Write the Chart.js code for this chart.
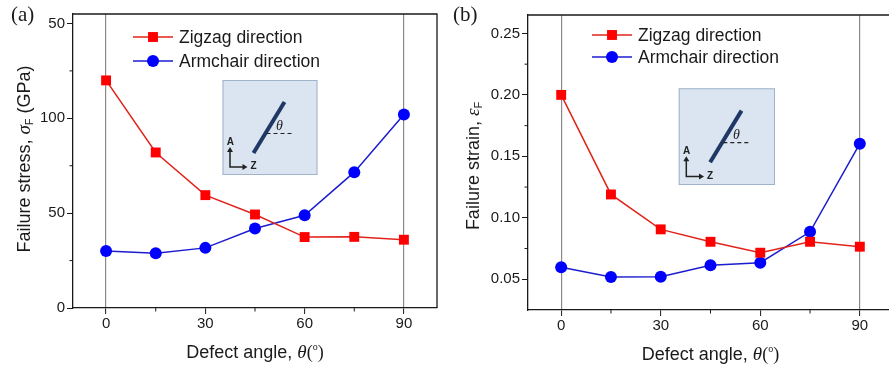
<!DOCTYPE html>
<html>
<head>
<meta charset="utf-8">
<script src="https://cdn.jsdelivr.net/npm/chart.js@4.4.0/dist/chart.umd.min.js"></script>
<style>
html, body { margin:0; padding:0; background:#fff; overflow:hidden; width:889px; height:369px; }
#wrapA { position:absolute; left:0; top:0; width:440px; height:369px; }
#wrapB { position:absolute; left:440px; top:0; width:456px; height:369px; }
</style>
</head>
<body>
<div id="wrapA"><canvas id="chartA" width="440" height="369"></canvas></div>
<div id="wrapB"><canvas id="chartB" width="456" height="369"></canvas></div>
<script>
// data
const angles = [0, 15, 30, 45, 60, 75, 90];
const stressZigzag = [120, 82, 59.5, 49.3, 37.4, 37.5, 36];
const stressArmchair = [30, 28.9, 31.7, 41.9, 48.9, 71.6, 102];
const strainZigzag = [0.200, 0.119, 0.0906, 0.0805, 0.0716, 0.0805, 0.0765];
const strainArmchair = [0.0598, 0.0518, 0.0520, 0.0614, 0.0635, 0.0886, 0.1603];
const seriesNames = ['Zigzag direction', 'Armchair direction'];

// ticks
const angleTicks = [0, 30, 60, 90];
const angleMinor = [15, 45, 75];
const stressTicks = [0, 50, 100, 150];
const stressTickLabels = ['0', '50', '100', '50'];
const stressMinor = [25, 75, 125];
const strainTicks = [0.05, 0.10, 0.15, 0.20, 0.25];
const strainTickLabels = ['0.05', '0.10', '0.15', '0.20', '0.25'];
const strainMinor = [0.075, 0.125, 0.175, 0.225];

const SANS = 'Liberation Sans';
const SERIF = 'Liberation Serif';
const INK = '#1a1a1a';

function pts(vals){
    return angles.map((a, i) => ({x: a, y: vals[i]}));
}

function tickLabel(majors, labels){
    return function(value){
        for(let i = 0; i < majors.length; i++){
            if(Math.abs(majors[i] - value) < 1e-9) return labels[i];
        }
        return '';
    };
}

function setTicks(majors){
    return function(scale){
        scale.ticks = majors.map(v => ({value: v}));
    };
}

// text with mixed fonts (italic greek, subscripts)
function richText(ctx, parts, x, y, rot){
    ctx.save();
    ctx.translate(x, y);
    ctx.rotate(rot);
    ctx.textBaseline = 'alphabetic';
    ctx.textAlign = 'left';
    ctx.fillStyle = INK;
    let w = 0;
    parts.forEach(p => { ctx.font = p.font; p.w = ctx.measureText(p.t).width; w += p.w; });
    let cx = -w / 2;
    parts.forEach(p => { ctx.font = p.font; ctx.fillText(p.t, cx, p.dy || 0); cx += p.w; });
    ctx.restore();
}

function drawInset(ctx, bx, by, bw, bh){
    const k = bw / 95;
    ctx.save();
    ctx.fillStyle = '#dbe5f1';
    ctx.fillRect(bx, by, bw, bh);
    ctx.strokeStyle = '#9fb3ca';
    ctx.lineWidth = 1;
    ctx.strokeRect(bx + 0.5, by + 0.5, bw - 1, bh - 1);
    // defect
    ctx.strokeStyle = '#1f3865';
    ctx.lineWidth = 4;
    ctx.beginPath();
    ctx.moveTo(bx + 31 * k, by + 73 * k);
    ctx.lineTo(bx + 62 * k, by + 22 * k);
    ctx.stroke();
    // dashed reference
    ctx.strokeStyle = '#222';
    ctx.lineWidth = 1.2;
    ctx.setLineDash([4, 3]);
    ctx.beginPath();
    ctx.moveTo(bx + 44 * k, by + 53.5 * k);
    ctx.lineTo(bx + 70 * k, by + 53.5 * k);
    ctx.stroke();
    ctx.setLineDash([]);
    ctx.fillStyle = '#222';
    ctx.font = 'italic 14px ' + SERIF;
    ctx.textAlign = 'center';
    ctx.textBaseline = 'middle';
    ctx.fillText('θ', bx + 57 * k, by + 46 * k);
    // A / Z arrows
    ctx.lineWidth = 1.5;
    ctx.beginPath();
    ctx.moveTo(bx + 7.5 * k, by + 70 * k);
    ctx.lineTo(bx + 7.5 * k, by + 87 * k);
    ctx.lineTo(bx + 22 * k, by + 87 * k);
    ctx.stroke();
    ctx.beginPath();
    ctx.moveTo(bx + 7.5 * k, by + 67 * k);
    ctx.lineTo(bx + 4.5 * k, by + 72 * k);
    ctx.lineTo(bx + 10.5 * k, by + 72 * k);
    ctx.closePath();
    ctx.fill();
    ctx.beginPath();
    ctx.moveTo(bx + 25 * k, by + 87 * k);
    ctx.lineTo(bx + 20 * k, by + 84 * k);
    ctx.lineTo(bx + 20 * k, by + 90 * k);
    ctx.closePath();
    ctx.fill();
    ctx.font = 'bold 10px ' + SANS;
    ctx.fillText('A', bx + 7.8 * k, by + 62.5 * k);
    ctx.fillText('Z', bx + 31 * k, by + 86.5 * k);
    ctx.restore();
}

function marker(ctx, style, r, x, y, color){
    ctx.fillStyle = color;
    ctx.beginPath();
    if(style === 'rect'){
        const s = r * Math.SQRT1_2;
        ctx.rect(x - s, y - s, 2 * s, 2 * s);
    } else {
        ctx.arc(x, y, r, 0, Math.PI * 2);
    }
    ctx.fill();
}

// frame, minor ticks, legend, inset, titles
const decor = {
    id: 'decor',
    afterDraw(chart, args, o){
        const ctx = chart.ctx;
        const a = chart.chartArea;
        const xs = chart.scales.x, ys = chart.scales.y;
        ctx.save();
        ctx.strokeStyle = INK;
        ctx.lineWidth = 1.3;
        ctx.beginPath();
        ctx.moveTo(a.left, a.top);
        ctx.lineTo(a.right, a.top);
        ctx.lineTo(a.right, a.bottom);
        ctx.stroke();
        // minor ticks
        ctx.lineWidth = 1;
        ctx.beginPath();
        o.xMinor.forEach(v => { const px = xs.getPixelForValue(v); ctx.moveTo(px, a.bottom); ctx.lineTo(px, a.bottom + 3.5); });
        o.yMinor.forEach(v => { const py = ys.getPixelForValue(v); ctx.moveTo(a.left, py); ctx.lineTo(a.left - 3.5, py); });
        ctx.stroke();
        // legend
        chart.data.datasets.forEach((ds, i) => {
            const y = o.legY + i * o.legDy;
            ctx.strokeStyle = ds.borderColor;
            ctx.lineWidth = 1.5;
            ctx.beginPath();
            ctx.moveTo(o.legX, y);
            ctx.lineTo(o.legX + 40, y);
            ctx.stroke();
            marker(ctx, ds.pointStyle, ds.pointRadius, o.legX + 20, y, ds.pointBackgroundColor);
            ctx.fillStyle = INK;
            ctx.font = '17.5px ' + SANS;
            ctx.textAlign = 'left';
            ctx.textBaseline = 'middle';
            ctx.fillText(ds.label, o.legX + 46, y + 1);
        });
        drawInset(ctx, o.inset[0], o.inset[1], o.inset[2], o.inset[3]);
        // panel label
        ctx.fillStyle = INK;
        ctx.font = '21px ' + SERIF;
        ctx.textAlign = 'left';
        ctx.textBaseline = 'alphabetic';
        ctx.fillText(o.panel, o.panelX, 21);
        // axis titles
        const cx = (a.left + a.right) / 2;
        richText(ctx, [
            {t: 'Defect angle, ', font: '18px ' + SANS},
            {t: 'θ', font: 'italic 19px ' + SERIF},
            {t: '(', font: '18px ' + SERIF},
            {t: 'o', font: '10px ' + SERIF, dy: -8},
            {t: ')', font: '18px ' + SERIF}
        ], cx, o.xTitleY, 0);
        richText(ctx, o.yTitle, o.yTitleX, o.yTitleY, -Math.PI / 2);
        ctx.restore();
    }
};

function makeChart(id, zig, arm, yOpts, dec, pad){
    const ds = [
        {label: seriesNames[0], data: pts(zig), borderColor: '#e2231a', borderWidth: 1.5,
         pointStyle: 'rect', pointRadius: 7, pointHoverRadius: 7, pointBackgroundColor: '#ff0000', pointBorderWidth: 0},
        {label: seriesNames[1], data: pts(arm), borderColor: '#1c1ccf', borderWidth: 1.5,
         pointStyle: 'circle', pointRadius: 6, pointHoverRadius: 6, pointBackgroundColor: '#0000ff', pointBorderWidth: 0}
    ];
    return new Chart(document.getElementById(id).getContext('2d'), {
        type: 'line',
        data: {datasets: ds},
        options: {
            responsive: false,
            animation: false,
            devicePixelRatio: 1,
            layout: {padding: pad, autoPadding: false},
            plugins: {legend: {display: false}, tooltip: {enabled: false}, decor: dec},
            scales: {
                x: {
                    type: 'linear', min: -10, max: 100,
                    afterBuildTicks: setTicks(angleTicks),
                    afterFit: s => { s.height = dec.xAxisH; s.paddingLeft = 0; s.paddingRight = 0; },
                    ticks: {font: {family: SANS, size: 15}, color: INK, padding: 1, maxRotation: 0, autoSkip: false},
                    grid: {
                        color: c => (c.tick && (c.tick.value === 0 || c.tick.value === 90)) ? '#8a8a8a' : 'rgba(0,0,0,0)',
                        lineWidth: 1.2, tickLength: 6, tickColor: INK, tickWidth: 1
                    },
                    border: {color: INK, width: 1.3}
                },
                y: {
                    type: 'linear', min: yOpts.min, max: yOpts.max,
                    afterBuildTicks: setTicks(yOpts.ticks),
                    afterFit: s => { s.width = dec.yAxisW; s.paddingTop = 0; s.paddingBottom = 0; },
                    ticks: {font: {family: SANS, size: 15}, color: INK, padding: 2, callback: tickLabel(yOpts.ticks, yOpts.labels), autoSkip: false},
                    grid: {drawOnChartArea: false, tickLength: 6, tickColor: INK, tickWidth: 1},
                    border: {color: INK, width: 1.3}
                }
            }
        },
        plugins: [decor]
    });
}

makeChart('chartA', stressZigzag, stressArmchair,
    {min: 0, max: 155, ticks: stressTicks, labels: stressTickLabels},
    {xAxisH: 61, yAxisW: 73, xMinor: angleMinor, yMinor: stressMinor,
     legX: 133, legY: 37, legDy: 24, inset: [222.5, 80, 95, 95],
     panel: '(a)', panelX: 11, xTitleY: 358, yTitleX: 30, yTitleY: 159,
     yTitle: [
        {t: 'Failure stress, ', font: '18px ' + SANS},
        {t: 'σ', font: 'italic 19px ' + SERIF},
        {t: 'F', font: '11px ' + SANS, dy: 3},
        {t: ' (GPa)', font: '18px ' + SANS}
     ]},
    {left: 0, right: 3, top: 14, bottom: 0});

makeChart('chartB', strainZigzag, strainArmchair,
    {min: 0.025, max: 0.265, ticks: strainTicks, labels: strainTickLabels},
    {xAxisH: 59, yAxisW: 88, xMinor: angleMinor, yMinor: strainMinor,
     legX: 152, legY: 35, legDy: 22, inset: [238.7, 88.3, 96.3, 96.7],
     panel: '(b)', panelX: 13, xTitleY: 360, yTitleX: 39, yTitleY: 166,
     yTitle: [
        {t: 'Failure strain, ', font: '18px ' + SANS},
        {t: 'ε', font: 'italic 19px ' + SERIF},
        {t: 'F', font: '11px ' + SANS, dy: 3}
     ]},
    {left: 0, right: 3, top: 15, bottom: 0});
</script>
</body>
</html>
